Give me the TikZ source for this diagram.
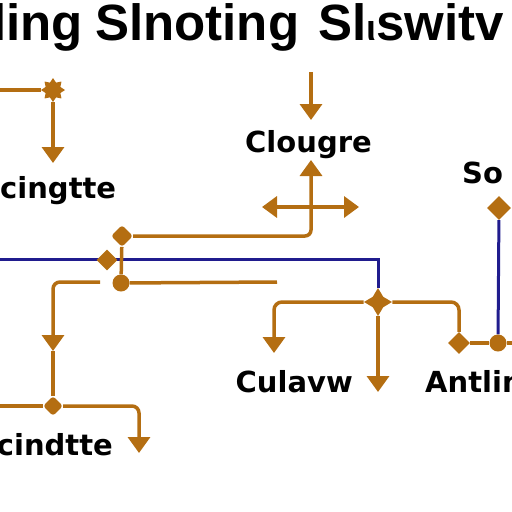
\documentclass[tikz,border=0pt]{standalone}
\usepackage{fontspec}
\setmainfont{Liberation Sans}
\newfontfamily\labfont{DejaVu Sans}
\usetikzlibrary{arrows.meta,shapes.geometric,backgrounds}
\definecolor{orng}{HTML}{B46E12}
\definecolor{navy}{HTML}{201C8E}
\begin{document}
\begin{tikzpicture}[x=1pt,y=-1pt,
  orline/.style={draw=orng,line width=3.5pt},
  blline/.style={draw=navy,line width=3pt},
  tip/.style={-{Triangle[width=22pt,length=16pt]}},
  tiptwo/.style={{Triangle[width=21pt,length=15pt]}-{Triangle[width=21pt,length=15pt]}},
  ttl/.style={font=\fontsize{51}{51}\selectfont\bfseries,inner sep=0pt,anchor=base west},
  lab/.style={font=\labfont\fontsize{29}{29}\selectfont\bfseries,inner sep=0pt},
  odia/.style={diamond,fill=orng,inner sep=0pt,minimum size=#1},
  odia/.default=20pt,
  ocirc/.style={circle,fill=orng,inner sep=0pt,minimum size=17pt},
  oblob/.style={diamond,rounded corners=3pt,fill=orng,inner sep=0pt,minimum size=#1},
  ostar/.style={star,star points=#1,star point ratio=1.9,fill=orng,inner sep=0pt,minimum size=20pt}
]
\useasboundingbox (0,0) rectangle (512,512);
\clip (0,0) rectangle (512,512);
% titles
\node[ttl] (t1) at (-8,40) {ling};
\node[ttl] (t2) at (95,40) {Slnoting};
\node[ttl] (t3) at (318,40) {Sl\fontsize{36}{36}\selectfont ι\fontsize{51}{51}\selectfont switv};
% labels
\node[lab,anchor=base west] (cing) at (0,198) {cingtte};
\node[lab,anchor=base west] (clou) at (245,152) {Clougre};
\node[lab,anchor=base west] (so) at (462,183) {So};
\node[lab,anchor=base east] (cula) at (353,392) {Culavw};
\node[lab,anchor=base west] (antl) at (425,392) {Antlim};
\node[lab,anchor=base east] (scin) at (113,455) {scindtte};
% junction nodes
\node[ostar=8,star point ratio=1.5,minimum size=24pt] (st) at (53,90) {};
\node[oblob=22pt] (n1) at (122,236) {};
\node[odia=21pt] (n2) at (107,260) {};
\node[ocirc] (n3) at (121,283) {};
\node[oblob=20pt] (n4) at (53,406) {};
\node[ostar=4,minimum size=28pt] (n5) at (378,302) {};
\node[odia=22pt] (n6) at (459,343) {};
\node[ocirc] (n7) at (498,343) {};
\node[odia=24pt] (n8) at (499,208) {};
% free ends
\coordinate (l0) at (0,90);
\coordinate (a1) at (53,163);
\coordinate (c0) at (311,72);
\coordinate (c1) at (311,120);
\coordinate (u1) at (311,160);
\coordinate (h1) at (262,207);
\coordinate (h2) at (359,207);
\coordinate (b0) at (0,259);
\coordinate (r1) at (277,282);
\coordinate (g1) at (100,282);
\coordinate (a2) at (53,351);
\coordinate (l4) at (0,406);
\coordinate (a3) at (139,453);
\coordinate (a4) at (274,353);
\coordinate (a5) at (378,392);
\coordinate (re) at (512,343);
\begin{scope}[on background layer]
\draw[blline] (b0) -- (378,259) -- (n5);
\draw[blline] (n8) -- (n7);
\draw[orline] (l0) -- (st);
\draw[orline,tip] (st) -- (a1);
\draw[orline,tip] (c0) -- (c1);
\draw[orline,tip,rounded corners=6pt] (n1) -- (311,236) -- (u1);
\draw[orline,tiptwo] (h1) -- (h2);
\draw[orline] (n1) -- (n3);
\draw[orline] (n3) -- (r1);
\draw[orline,tip,rounded corners=7pt] (g1) -- (53,282) -- (a2);
\draw[orline] (a2) -- (n4);
\draw[orline] (l4) -- (n4);
\draw[orline,tip,rounded corners=7pt] (n4) -- (139,406) -- (a3);
\draw[orline,tip,rounded corners=8pt] (n5) -- (274,302) -- (a4);
\draw[orline,tip] (n5) -- (a5);
\draw[orline,rounded corners=8pt] (n5) -- (459,302) -- (n6);
\draw[orline] (n6) -- (n7);
\draw[orline] (n7) -- (re);
\end{scope}
\end{tikzpicture}
\end{document}
